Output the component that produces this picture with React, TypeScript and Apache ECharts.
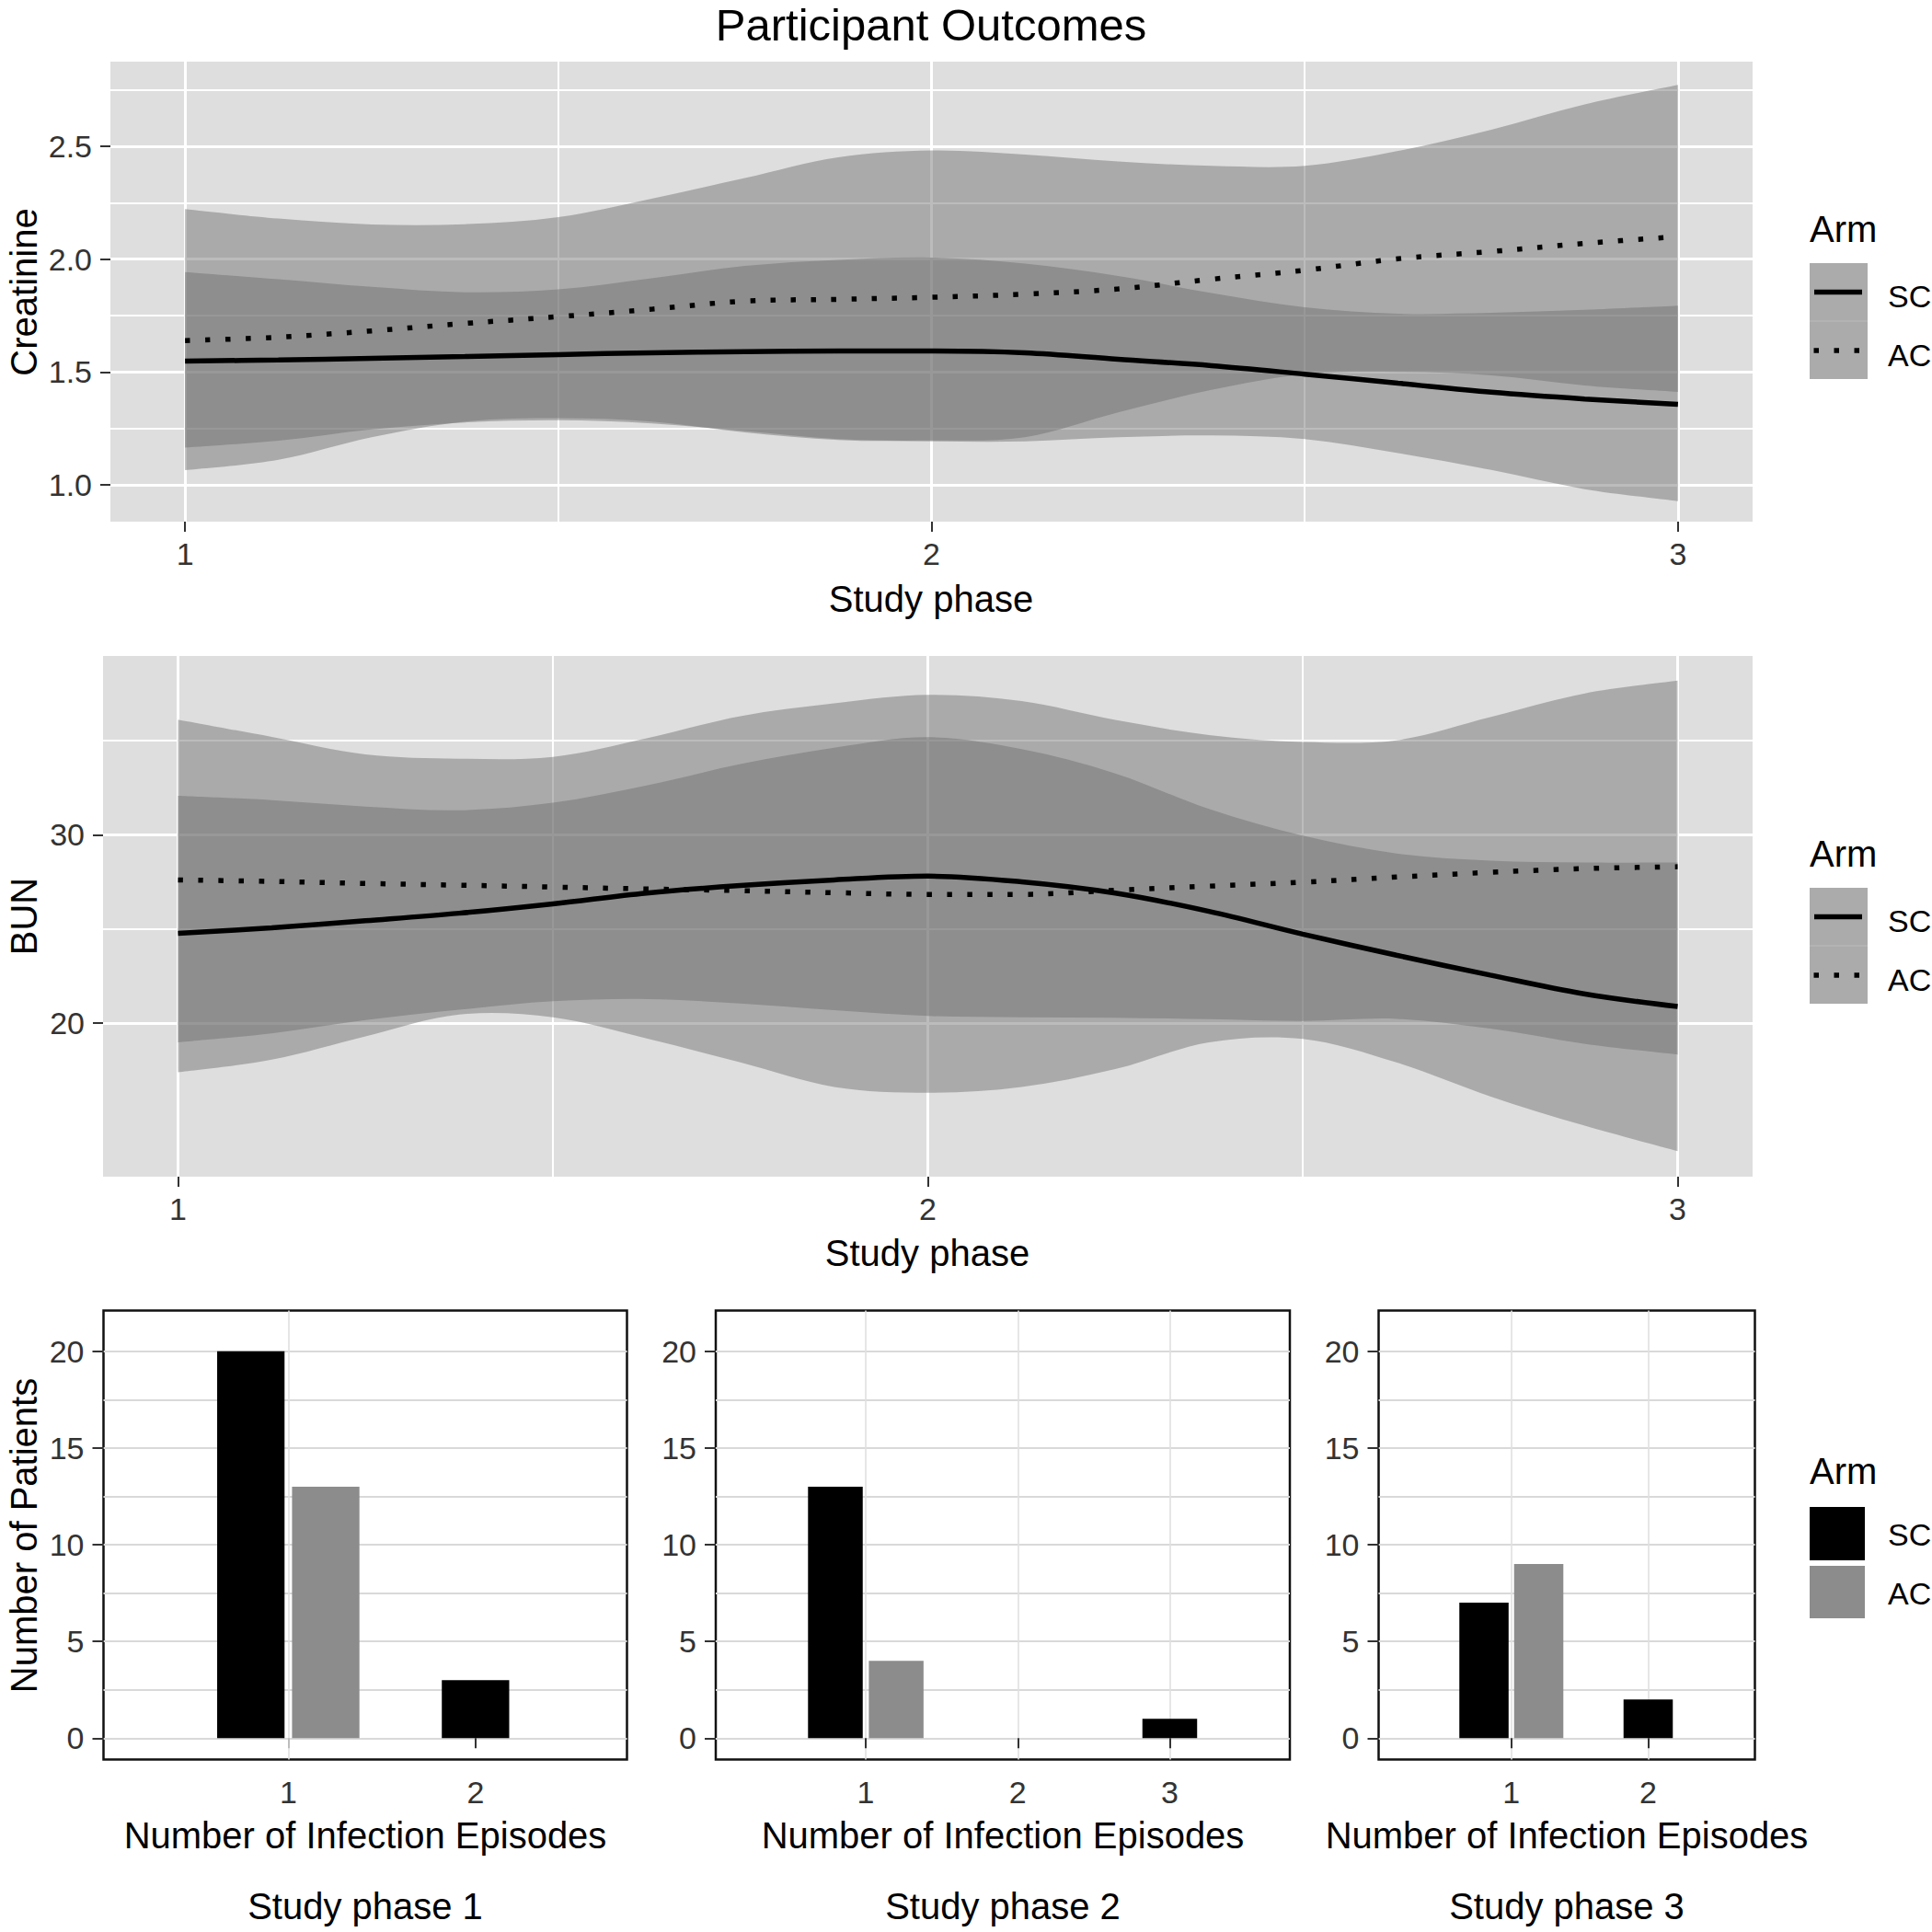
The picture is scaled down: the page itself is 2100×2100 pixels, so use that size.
import React, { useEffect, useRef } from "react";
import * as echarts from "echarts";

const FONT = "'Liberation Sans', Arial, Helvetica, sans-serif";

// ---------- Data ----------
const phaseX = [1, 1.125, 1.25, 1.375, 1.5, 1.625, 1.75, 1.875, 2, 2.125, 2.25, 2.375, 2.5, 2.625, 2.75, 2.875, 3];
const phaseTicks = [1, 2, 3];

// Creatinine
const creatSC = [1.548, 1.553, 1.56, 1.568, 1.577, 1.585, 1.59, 1.593, 1.593, 1.585, 1.556, 1.528, 1.49, 1.45, 1.41, 1.38, 1.356];
const creatAC = [1.639, 1.654, 1.682, 1.715, 1.745, 1.778, 1.814, 1.822, 1.831, 1.845, 1.868, 1.911, 1.951, 2.002, 2.034, 2.07, 2.1];
const creatSCLow = [1.164, 1.195, 1.245, 1.276, 1.286, 1.272, 1.238, 1.202, 1.196, 1.21, 1.32, 1.42, 1.49, 1.5, 1.485, 1.44, 1.411];
const creatSCHigh = [1.943, 1.911, 1.877, 1.853, 1.866, 1.915, 1.97, 1.997, 2.007, 1.98, 1.925, 1.85, 1.787, 1.758, 1.762, 1.775, 1.794];
const creatACLow = [1.064, 1.11, 1.21, 1.28, 1.295, 1.28, 1.232, 1.198, 1.192, 1.192, 1.21, 1.218, 1.202, 1.14, 1.065, 0.98, 0.927];
const creatACHigh = [2.222, 2.18, 2.154, 2.155, 2.186, 2.268, 2.36, 2.452, 2.482, 2.464, 2.433, 2.414, 2.414, 2.48, 2.574, 2.686, 2.773];
const creatTicks = [1.0, 1.5, 2.0, 2.5];

// BUN
const bunSC = [24.76, 25.05, 25.43, 25.83, 26.33, 26.9, 27.3, 27.6, 27.8, 27.5, 26.9, 25.93, 24.72, 23.6, 22.54, 21.55, 20.87];
const bunAC = [27.6, 27.52, 27.41, 27.32, 27.22, 27.12, 27.03, 26.92, 26.83, 26.83, 27.05, 27.27, 27.48, 27.75, 28.0, 28.2, 28.3];
const bunSCLow = [18.97, 19.45, 20.15, 20.7, 21.15, 21.27, 21.03, 20.68, 20.37, 20.3, 20.28, 20.2, 20.1, 20.22, 19.7, 18.9, 18.32];
const bunSCHigh = [32.07, 31.84, 31.5, 31.3, 31.7, 32.62, 33.75, 34.62, 35.18, 34.55, 33.26, 31.37, 29.95, 29.0, 28.62, 28.52, 28.52];
const bunACLow = [17.38, 18.05, 19.29, 20.45, 20.3, 19.18, 17.9, 16.6, 16.29, 16.6, 17.55, 18.97, 19.15, 17.9, 16.1, 14.55, 13.19];
const bunACHigh = [36.12, 35.2, 34.27, 34.04, 34.14, 35.13, 36.3, 36.98, 37.43, 37.1, 36.1, 35.3, 34.93, 35.02, 36.25, 37.5, 38.19];
const bunTicks = [20, 30];
const bunMinor = [25, 35];

// Infection episodes (bars)
const episodes1 = [1, 2];
const sc1 = [20, 3];
const ac1 = [13, 0];
const episodes2 = [1, 2, 3];
const sc2 = [13, 0, 1];
const ac2 = [4, 0, 0];
const episodes3 = [1, 2];
const sc3 = [7, 2];
const ac3 = [9, 0];
const countTicks = [0, 5, 10, 15, 20];

// ---------- Styles ----------
const PANEL_BG = "#dedede";
const BAND_FILL = "rgba(110,110,110,0.46)";
const LINE_W = 5.5;
const DOT: number[] = [5.5, 16.5];
const TICK_COLOR = "#333";
const BW_GRID = "#d9d9d9";
const SC_FILL = "#000000";
const AC_FILL = "#8c8c8c";
const DODGE = 0.4;
const BAR_W = 0.36;

const pairs = (xs: number[], ys: number[]) => xs.map((x, i) => [x, ys[i]]);

// Catmull-Rom -> cubic Bezier through projected pixel points (rendering only)
function curveThrough(p: number[][]) {
  let s = "";
  for (let i = 0; i < p.length - 1; i++) {
    const p0 = p[Math.max(i - 1, 0)];
    const p1 = p[i];
    const p2 = p[i + 1];
    const p3 = p[Math.min(i + 2, p.length - 1)];
    const c1x = p1[0] + (p2[0] - p0[0]) / 6;
    const c1y = p1[1] + (p2[1] - p0[1]) / 6;
    const c2x = p2[0] - (p3[0] - p1[0]) / 6;
    const c2y = p2[1] - (p3[1] - p1[1]) / 6;
    s += ` C${c1x},${c1y} ${c2x},${c2y} ${p2[0]},${p2[1]}`;
  }
  return s;
}

function bandSeries(idx: number, lo: number[], hi: number[]) {
  return {
    type: "custom", xAxisIndex: idx, yAxisIndex: idx, z: 2, silent: true,
    data: phaseX.map((x, i) => [x, lo[i], hi[i]]),
    encode: { x: 0, y: [1, 2] },
    renderItem: (params: any, api: any) => {
      if (params.dataIndex !== 0) return null;
      const up = phaseX.map((x, i) => api.coord([x, hi[i]]));
      const dn = phaseX.map((x, i) => api.coord([x, lo[i]])).reverse();
      const d = `M${up[0][0]},${up[0][1]}` + curveThrough(up) + ` L${dn[0][0]},${dn[0][1]}` + curveThrough(dn) + " Z";
      return { type: "path", shape: { pathData: d }, style: { fill: BAND_FILL } };
    },
  };
}

function lineSeries(idx: number, ys: number[], dotted: boolean) {
  return {
    type: "line", xAxisIndex: idx, yAxisIndex: idx, data: pairs(phaseX, ys),
    symbol: "none", smooth: 0.35, silent: true, z: 4,
    lineStyle: { color: "#000", width: LINE_W, type: dotted ? DOT : "solid", cap: "butt" },
  };
}

function dodgeItems(eps: number[], sc: number[], ac: number[]) {
  const items: number[][] = [];
  eps.forEach((ep, i) => {
    const present = [[0, sc[i]], [1, ac[i]]].filter((p) => p[1] > 0);
    present.forEach((p, k) => {
      items.push([ep + (k - (present.length - 1) / 2) * DODGE, p[1], p[0]]);
    });
  });
  return items;
}

function barSeries(idx: number, eps: number[], sc: number[], ac: number[]) {
  return {
    type: "custom", xAxisIndex: idx, yAxisIndex: idx, z: 3, silent: true,
    data: dodgeItems(eps, sc, ac),
    encode: { x: 0, y: 1 },
    renderItem: (_params: any, api: any) => {
      const c = api.value(0) as number;
      const v = api.value(1) as number;
      const arm = api.value(2);
      const tl = api.coord([c - BAR_W / 2, v]);
      const br = api.coord([c + BAR_W / 2, 0]);
      return {
        type: "rect",
        shape: { x: tl[0], y: tl[1], width: br[0] - tl[0], height: br[1] - tl[1] },
        style: { fill: arm === 0 ? SC_FILL : AC_FILL },
      };
    },
  };
}

const labelStyle = { fontSize: 34, color: TICK_COLOR, fontFamily: FONT };

function greyX(idx: number) {
  return {
    type: "value", gridIndex: idx, min: 0.9, max: 3.1, splitNumber: 2,
    axisLine: { show: false },
    axisTick: { show: true, length: 11, lineStyle: { color: TICK_COLOR, width: 2 }, customValues: phaseTicks },
    axisLabel: { ...labelStyle, margin: 18, customValues: phaseTicks },
    splitLine: { show: true, lineStyle: { color: "#fff", width: 3 } },
    minorTick: { show: false, splitNumber: 2 },
    minorSplitLine: { show: true, lineStyle: { color: "#fff", width: 2 } },
  };
}

function bwX(idx: number, min: number, max: number, ticks: number[], showSplit: boolean) {
  return {
    type: "value", gridIndex: idx, min, max, splitNumber: ticks.length,
    axisLine: { show: false },
    axisTick: { show: true, length: 11, lineStyle: { color: TICK_COLOR, width: 2 }, customValues: ticks },
    axisLabel: { ...labelStyle, margin: 18, customValues: ticks },
    splitLine: { show: showSplit, lineStyle: { color: "#e0e0e0", width: 1.6 } },
  };
}

function bwY(idx: number) {
  return {
    type: "value", gridIndex: idx, min: -1.1, max: 22.1, splitNumber: 4,
    axisLine: { show: false },
    axisTick: { show: true, length: 12, lineStyle: { color: TICK_COLOR, width: 2 }, customValues: countTicks },
    axisLabel: { ...labelStyle, margin: 21, customValues: countTicks },
    splitLine: { show: true, lineStyle: { color: BW_GRID, width: 2 } },
    minorTick: { show: false, splitNumber: 2 },
    minorSplitLine: { show: true, lineStyle: { color: BW_GRID, width: 2 } },
  };
}

const txt = (x: number, y: number, text: string, size: number, align = "center", rot = 0, color = "#000") => ({
  type: "text", x, y, rotation: rot, silent: true, z: 50,
  style: {
    text, fill: color, font: `${size}px ${FONT}`,
    textAlign: align, textVerticalAlign: "middle", align, verticalAlign: "middle",
  },
});

function lineLegend(dy: number) {
  return [
    { type: "rect", silent: true, z: 40, shape: { x: 1967, y: 286 + dy, width: 63, height: 126 }, style: { fill: "#ababab" } },
    { type: "line", silent: true, z: 41, shape: { x1: 1967, y1: 349 + dy, x2: 2030, y2: 349 + dy }, style: { stroke: "#b6b6b6", lineWidth: 1.5 } },
    { type: "line", silent: true, z: 42, shape: { x1: 1972, y1: 317.5 + dy, x2: 2024, y2: 317.5 + dy }, style: { stroke: "#000", lineWidth: LINE_W } },
    { type: "line", silent: true, z: 42, shape: { x1: 1971.5, y1: 381 + dy, x2: 2024, y2: 381 + dy }, style: { stroke: "#000", lineWidth: LINE_W, lineDash: DOT } },
    txt(1967, 249 + dy, "Arm", 40, "left"),
    txt(2052, 322 + dy, "SC", 34, "left"),
    txt(2052, 386 + dy, "AC", 34, "left"),
  ];
}

const panelCenters = [397, 1090, 1703];

export default function App() {
  const ref = useRef<HTMLDivElement>(null);
  useEffect(() => {
    if (!ref.current) return;
    const chart = echarts.init(ref.current, undefined, { renderer: "svg" });
    const option: any = {
      animation: false,
      backgroundColor: "#fff",
      textStyle: { fontFamily: FONT },
      grid: [
        { left: 120, top: 67, width: 1785, height: 500, show: true, backgroundColor: PANEL_BG, borderWidth: 0 },
        { left: 112, top: 713, width: 1793, height: 566, show: true, backgroundColor: PANEL_BG, borderWidth: 0 },
        { left: 112.5, top: 1424.5, width: 569, height: 488, show: true, backgroundColor: "#fff", borderColor: "#111", borderWidth: 2.5 },
        { left: 778, top: 1424.5, width: 624, height: 488, show: true, backgroundColor: "#fff", borderColor: "#111", borderWidth: 2.5 },
        { left: 1498.5, top: 1424.5, width: 409, height: 488, show: true, backgroundColor: "#fff", borderColor: "#111", borderWidth: 2.5 },
      ],
      xAxis: [
        greyX(0),
        greyX(1),
        bwX(2, 0.013, 2.809, [1, 2], false),
        bwX(3, 0.013, 3.79, [1, 2, 3], true),
        bwX(4, 0.03, 2.78, [1, 2], true),
      ],
      yAxis: [
        {
          type: "value", gridIndex: 0, min: 0.836, max: 2.876, splitNumber: 4,
          axisLine: { show: false },
          axisTick: { show: true, length: 11, lineStyle: { color: TICK_COLOR, width: 2 }, customValues: creatTicks },
          axisLabel: { ...labelStyle, margin: 20, customValues: creatTicks, formatter: (v: number) => v.toFixed(1) },
          splitLine: { show: true, lineStyle: { color: "#fff", width: 3 } },
          minorTick: { show: false, splitNumber: 2 },
          minorSplitLine: { show: true, lineStyle: { color: "#fff", width: 2 } },
        },
        {
          type: "value", gridIndex: 1, min: 11.83, max: 39.5, splitNumber: 3,
          axisLine: { show: false },
          axisTick: { show: true, length: 11, lineStyle: { color: TICK_COLOR, width: 2 }, customValues: bunTicks },
          axisLabel: { ...labelStyle, margin: 20, customValues: bunTicks },
          splitLine: { show: true, lineStyle: { color: "#fff", width: 3 } },
        },
        bwY(2),
        bwY(3),
        bwY(4),
      ],
      series: [
        bandSeries(0, creatACLow, creatACHigh),
        bandSeries(0, creatSCLow, creatSCHigh),
        lineSeries(0, creatSC, false),
        lineSeries(0, creatAC, true),
        {
          type: "line", xAxisIndex: 1, yAxisIndex: 1, data: [], silent: true, z: 1,
          markLine: {
            silent: true, z: 1, symbol: ["none", "none"], label: { show: false },
            lineStyle: { color: "#fff", width: 2, type: "solid" },
            data: bunMinor.map((v) => ({ yAxis: v })),
          },
        },
        bandSeries(1, bunACLow, bunACHigh),
        bandSeries(1, bunSCLow, bunSCHigh),
        lineSeries(1, bunSC, false),
        lineSeries(1, bunAC, true),
        {
          type: "line", xAxisIndex: 2, yAxisIndex: 2, data: [], silent: true, z: 1,
          markLine: {
            silent: true, z: 1, symbol: ["none", "none"], label: { show: false },
            lineStyle: { color: "#e0e0e0", width: 1.6, type: "solid" },
            data: [{ xAxis: episodes1[0] }],
          },
        },
        barSeries(2, episodes1, sc1, ac1),
        barSeries(3, episodes2, sc2, ac2),
        barSeries(4, episodes3, sc3, ac3),
      ],
      graphic: [
        txt(1012, 27, "Participant Outcomes", 49),
        txt(25.5, 317.5, "Creatinine", 40, "center", Math.PI / 2),
        txt(1012, 651, "Study phase", 40),
        txt(25.5, 996, "BUN", 40, "center", Math.PI / 2),
        txt(1008, 1362, "Study phase", 40),
        txt(25.8, 1669, "Number of Patients", 40, "center", Math.PI / 2),
        ...panelCenters.map((cx) => txt(cx, 1995, "Number of Infection Episodes", 40)),
        ...panelCenters.map((cx, i) => txt(cx, 2072, `Study phase ${i + 1}`, 40)),
        ...lineLegend(0),
        ...lineLegend(679),
        { type: "rect", silent: true, z: 40, shape: { x: 1967, y: 1638, width: 60, height: 58 }, style: { fill: SC_FILL } },
        { type: "rect", silent: true, z: 40, shape: { x: 1967, y: 1702, width: 60, height: 57 }, style: { fill: AC_FILL } },
        txt(1967, 1599, "Arm", 40, "left"),
        txt(2052, 1668, "SC", 34, "left"),
        txt(2052, 1732, "AC", 34, "left"),
      ],
    };
    chart.setOption(option);
    return () => chart.dispose();
  }, []);
  return (
    <div
      ref={ref}
      style={{ position: "absolute", left: 0, top: 0, width: 2100, height: 2100, background: "#fff" }}
    />
  );
}
